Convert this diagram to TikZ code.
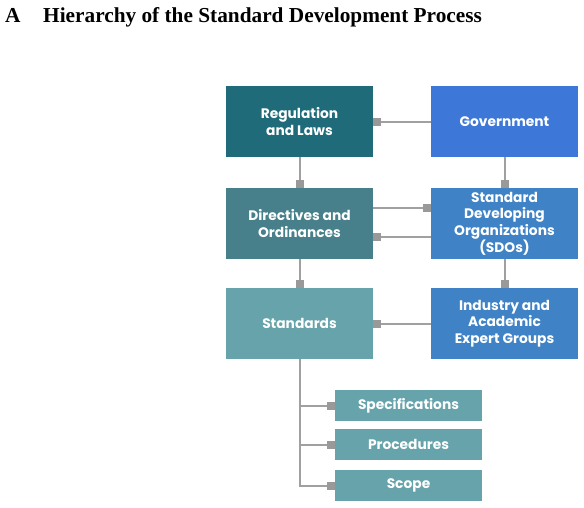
\documentclass[tikz,border=0pt]{standalone}
\usepackage{fontspec}
\setmainfont{Liberation Serif}
\newfontfamily\boxfont{Poppins}
\usetikzlibrary{arrows.meta}
\definecolor{cReg}{HTML}{1F6B7A}
\definecolor{cGov}{HTML}{3D78D9}
\definecolor{cDir}{HTML}{47808A}
\definecolor{cSdo}{HTML}{3F82C6}
\definecolor{cStd}{HTML}{66A3AA}
\definecolor{cLine}{HTML}{A0A0A0}
\definecolor{cTip}{HTML}{999999}
\tikzset{
  bigbox/.style={rectangle, minimum width=147pt, minimum height=71pt, inner sep=1pt,
    text=white, align=center, font=\boxfont\bfseries\fontsize{13.8}{16.6}\selectfont},
  smallbox/.style={rectangle, fill=cStd, minimum width=147pt, minimum height=31pt, inner sep=1pt,
    text=white, align=center, font=\boxfont\bfseries\fontsize{13.8}{16.6}\selectfont},
  link/.style={draw=cLine, line width=2pt, -{Square[length=7.5pt,width=8pt,color=cTip]}}
}
\begin{document}
\begin{tikzpicture}[x=1pt,y=-1pt]
\useasboundingbox (0,0) rectangle (584,507);
\node[anchor=base west, font=\bfseries\fontsize{21.3}{24}\selectfont, inner sep=0pt] (lbl) at (5,22.5) {A};
\node[anchor=base west, font=\bfseries\fontsize{21.3}{24}\selectfont, inner sep=0pt] (title) at (43,22.5) {Hierarchy of the Standard Development Process};
\node[bigbox, fill=cReg] (reg) at (299.5,121.5) {Regulation\\and Laws};
\node[bigbox, fill=cGov] (gov) at (504.5,121.5) {Government};
\node[bigbox, fill=cDir] (dir) at (299.5,223.5) {Directives and\\Ordinances};
\node[bigbox, fill=cSdo] (sdo) at (504.5,223.5) {Standard\\Developing\\Organizations\\(SDOs)};
\node[bigbox, fill=cStd] (std) at (299.5,323.5) {Standards};
\node[bigbox, fill=cSdo] (ind) at (504.5,323.5) {Industry and\\Academic\\Expert Groups};
\node[smallbox] (spec) at (408.5,405.5) {Specifications};
\node[smallbox] (proc) at (408.5,444.5) {Procedures};
\node[smallbox] (scope) at (408.5,485.5) {Scope};
\draw[link] (gov.west) -- (reg.east);
\draw[link] (reg.south) -- (dir.north);
\draw[link] (gov.south) -- (sdo.north);
\draw[link] ([yshift=15.5pt]dir.east) -- ([yshift=15.5pt]sdo.west);
\draw[link] ([yshift=-13.5pt]sdo.west) -- ([yshift=-13.5pt]dir.east);
\draw[link] (dir.south) -- (std.north);
\draw[link] (sdo.south) -- (ind.north);
\draw[link] (ind.west) -- (std.east);
\draw[link] (std.south) |- (spec.west);
\draw[link] (std.south) |- (proc.west);
\draw[link] (std.south) |- (scope.west);
\end{tikzpicture}
\end{document}
